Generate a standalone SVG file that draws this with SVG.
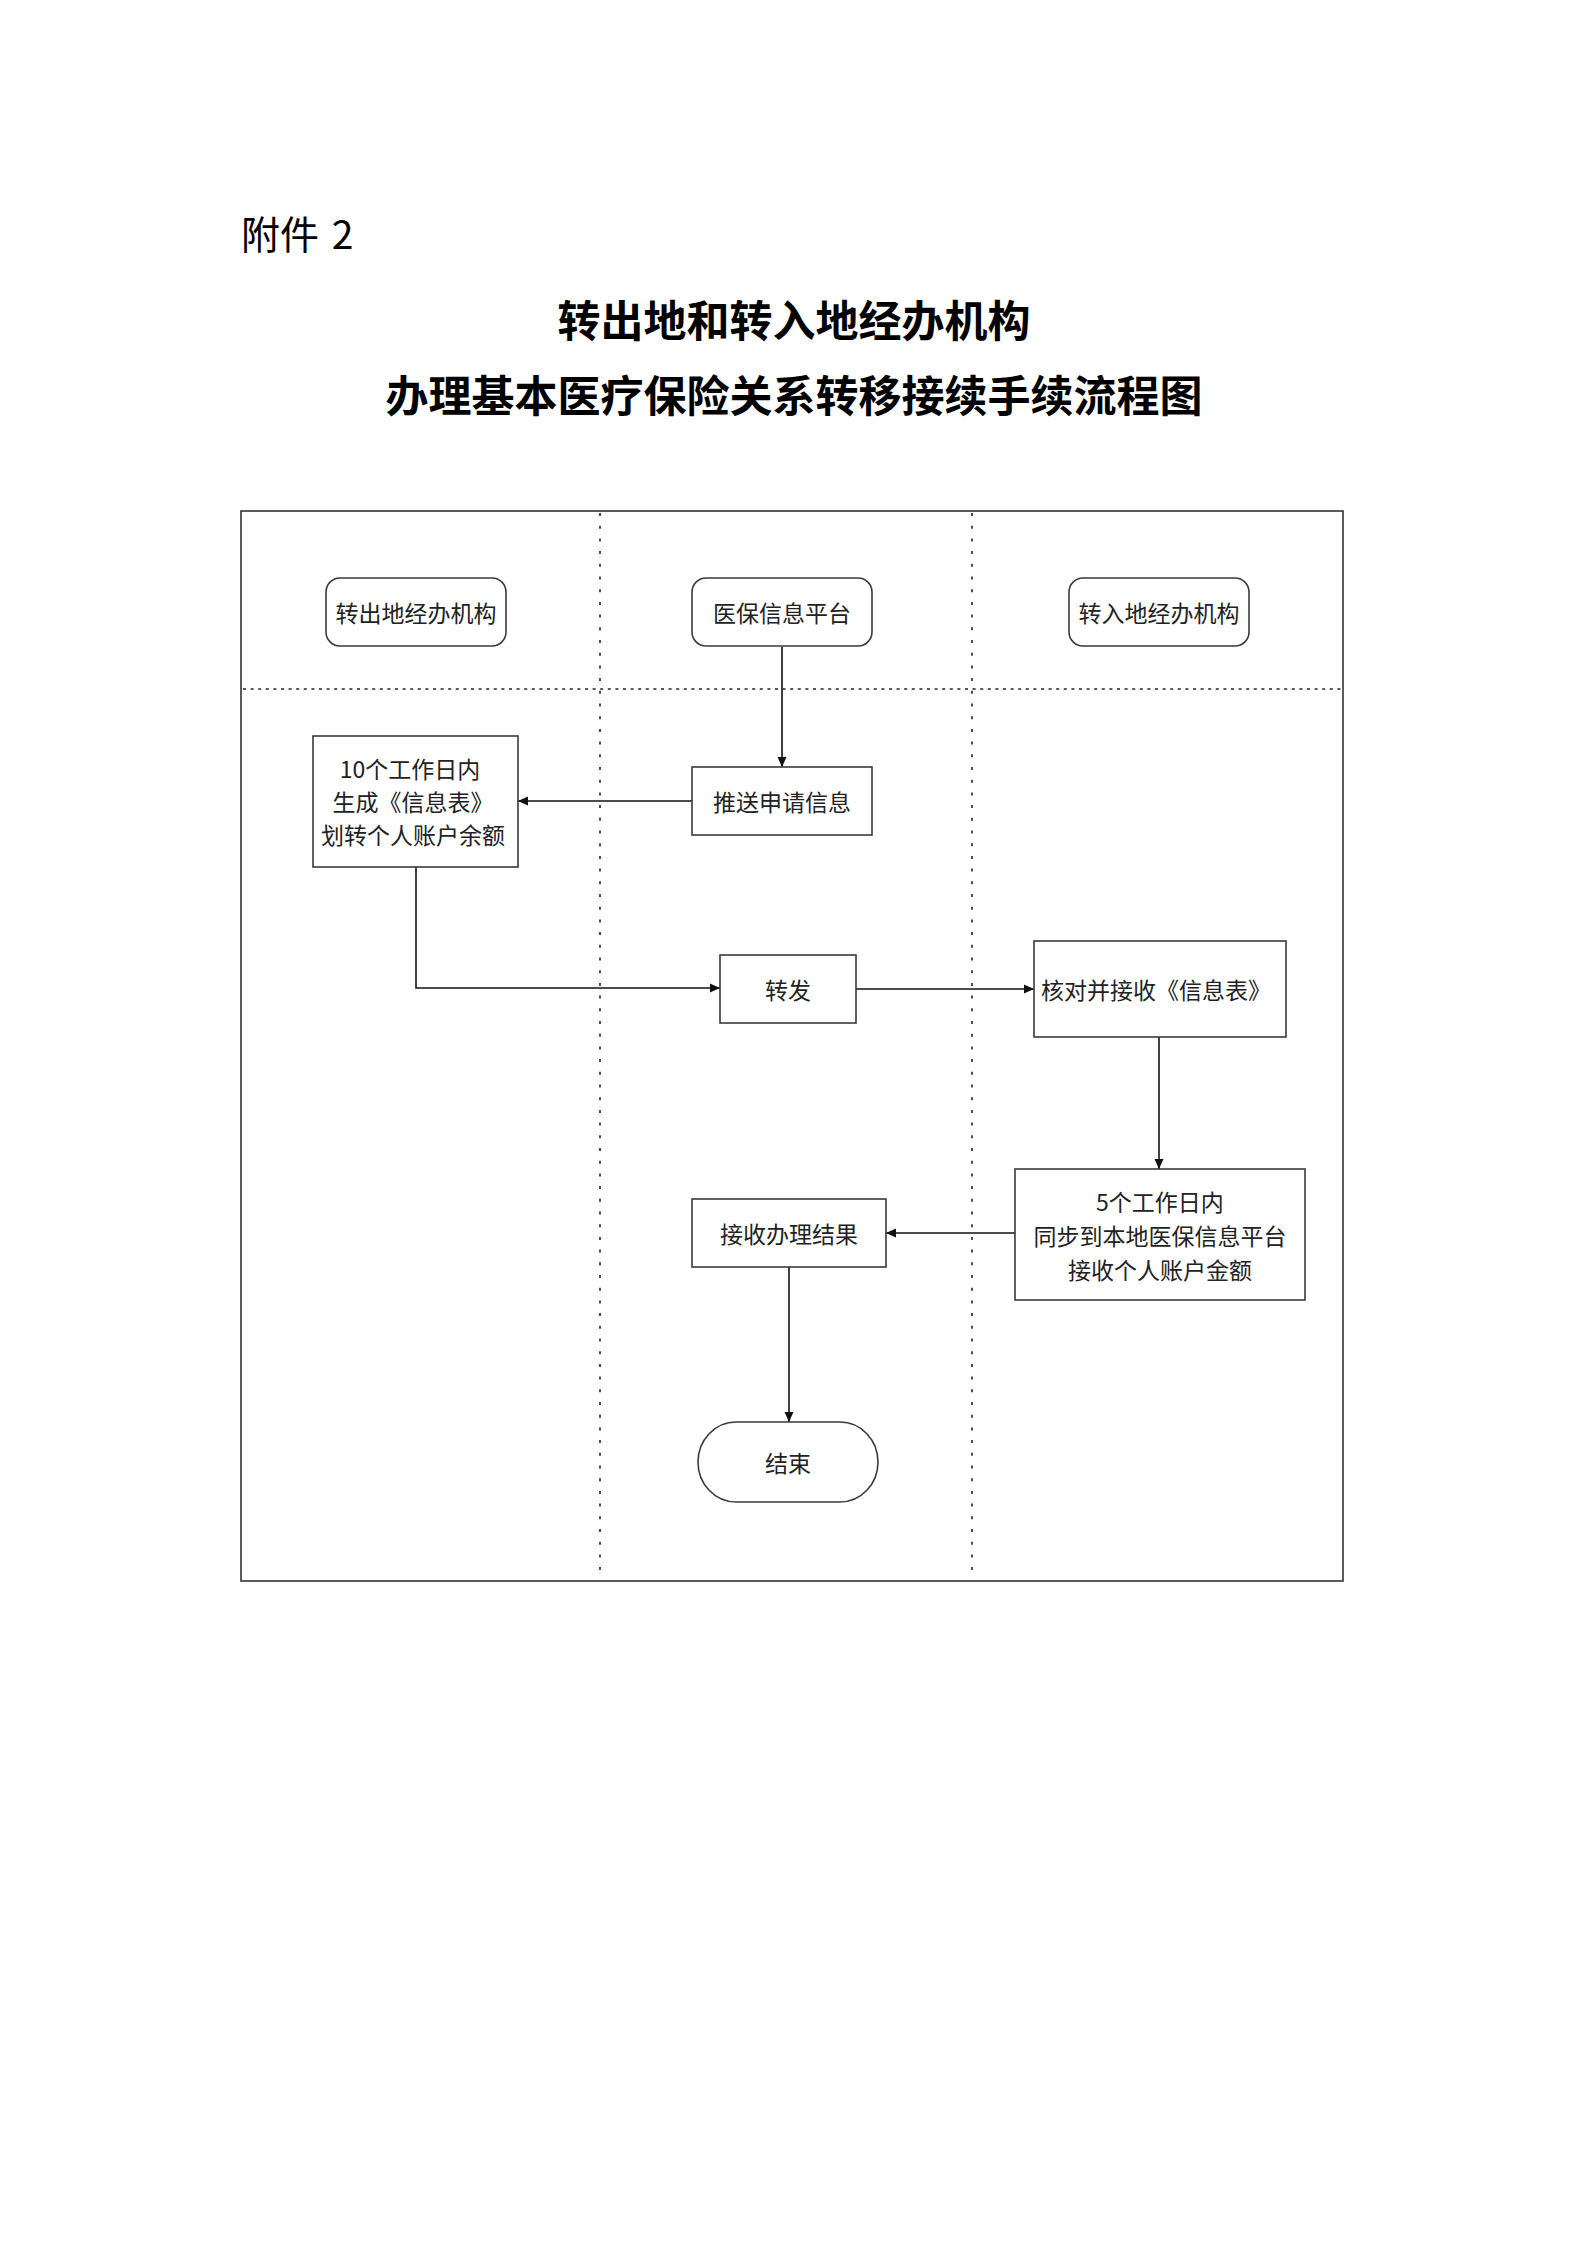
<svg xmlns="http://www.w3.org/2000/svg" width="1588" height="2245" viewBox="0 0 1588 2245">
<style>
.bg{fill:#fff}
.box{fill:#fff;stroke:#3a3a3a;stroke-width:1.6}
.frame{fill:none;stroke:#333;stroke-width:1.6}
.vdiv{stroke:#222;stroke-width:1.6;stroke-dasharray:3 9.7}
.hdiv{stroke:#222;stroke-width:1.6;stroke-dasharray:3 4.6}
.t{font-family:"Noto Sans CJK SC","Noto Sans",sans-serif;font-size:23px;fill:#222;text-anchor:middle;dominant-baseline:central}
.conn{fill:none;stroke:#111;stroke-width:1.6}
.hd{font-family:"Noto Sans CJK SC","Noto Sans",sans-serif;font-size:39px;fill:#000}
.title{font-family:"Noto Sans CJK SC",sans-serif;font-size:43px;font-weight:bold;fill:#000;text-anchor:middle}
</style>
<defs>
<marker id="arr" viewBox="0 0 10 10" refX="10" refY="5" markerWidth="10" markerHeight="10" markerUnits="userSpaceOnUse" orient="auto">
<path d="M0,0.5 L10,5 L0,9.5 Z" fill="#111"/>
</marker>
</defs>
<rect class="bg" x="0" y="0" width="1588" height="2245"/>
<g id="header">
<text class="hd" x="241" y="249">附件 <tspan dx="4">2</tspan></text>
<text class="title" x="794" y="337">转出地和转入地经办机构</text>
<text class="title" x="794" y="412">办理基本医疗保险关系转移接续手续流程图</text>
</g>
<g id="frame">
<rect class="frame" x="241" y="511" width="1102" height="1070"/>
<line class="vdiv" x1="600" y1="513" x2="600" y2="1572"/>
<line class="vdiv" x1="972" y1="513" x2="972" y2="1572"/>
<line class="hdiv" x1="243" y1="689" x2="1341" y2="689"/>
</g>
<g id="connectors">
<line class="conn" x1="782" y1="647" x2="782" y2="767" marker-end="url(#arr)"/>
<line class="conn" x1="692" y1="801" x2="518" y2="801" marker-end="url(#arr)"/>
<polyline class="conn" points="416,867 416,988 720,988" marker-end="url(#arr)"/>
<line class="conn" x1="856" y1="989" x2="1034" y2="989" marker-end="url(#arr)"/>
<line class="conn" x1="1159" y1="1037" x2="1159" y2="1169" marker-end="url(#arr)"/>
<line class="conn" x1="1015" y1="1233" x2="886" y2="1233" marker-end="url(#arr)"/>
<line class="conn" x1="789" y1="1267" x2="789" y2="1422" marker-end="url(#arr)"/>
</g>
<g id="lane-out">
<rect class="box" x="326" y="578" width="180" height="68" rx="14"/>
<text class="t" x="416" y="612">转出地经办机构</text>
</g>
<g id="lane-platform">
<rect class="box" x="692" y="578" width="180" height="68" rx="14"/>
<text class="t" x="782" y="612">医保信息平台</text>
</g>
<g id="lane-in">
<rect class="box" x="1069" y="578" width="180" height="68" rx="14"/>
<text class="t" x="1159" y="612">转入地经办机构</text>
</g>
<g id="push">
<rect class="box" x="692" y="767" width="180" height="68"/>
<text class="t" x="782" y="801">推送申请信息</text>
</g>
<g id="generate">
<rect class="box" x="313" y="736" width="205" height="131"/>
<text class="t" x="410" y="768">10个工作日内</text>
<text class="t" x="413" y="801">生成《信息表》</text>
<text class="t" x="413" y="834">划转个人账户余额</text>
</g>
<g id="forward">
<rect class="box" x="720" y="955" width="136" height="68"/>
<text class="t" x="788" y="989">转发</text>
</g>
<g id="verify">
<rect class="box" x="1034" y="941" width="252" height="96"/>
<text class="t" x="1156" y="989">核对并接收《信息表》</text>
</g>
<g id="sync">
<rect class="box" x="1015" y="1169" width="290" height="131"/>
<text class="t" x="1160" y="1201">5个工作日内</text>
<text class="t" x="1160" y="1235">同步到本地医保信息平台</text>
<text class="t" x="1160" y="1269">接收个人账户金额</text>
</g>
<g id="result">
<rect class="box" x="692" y="1199" width="194" height="68"/>
<text class="t" x="789" y="1233">接收办理结果</text>
</g>
<g id="end">
<rect class="box" x="698" y="1422" width="180" height="80" rx="38" ry="40"/>
<text class="t" x="788" y="1462">结束</text>
</g>
</svg>
